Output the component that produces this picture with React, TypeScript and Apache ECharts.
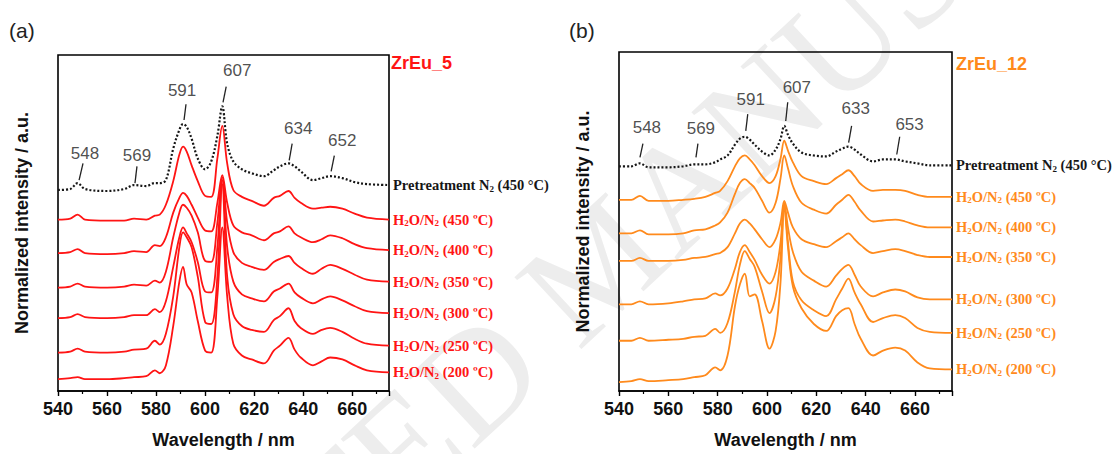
import React, { useEffect, useRef } from "react";
import * as echarts from "echarts";

// ---------- Panel (a): ZrEu_5 ----------
const wlA = [540, 545, 548, 551, 560, 567, 571, 576, 579.5, 581.5, 584, 587, 589.5, 591, 592.5, 594.5, 597, 600, 602.5, 605, 607, 609, 611.5, 615, 619, 624, 628, 630.5, 634, 636.5, 639, 644, 647.5, 651, 656, 661, 666, 675];
const aPre = [204, 205, 211, 205, 203, 205, 209, 208, 211, 211, 214, 246, 265, 271, 268, 256, 236, 225, 233, 259, 289, 251, 233, 225, 221, 218, 224, 228, 231, 228, 223, 214, 216, 218, 216, 212, 210, 209];
const a450 = [174, 175, 179, 174, 173, 173, 175, 174, 178, 179, 189, 213, 240, 248, 243, 229, 213, 198, 197, 236, 269, 231, 204, 197, 193, 188, 196, 198, 203, 196, 191, 185, 186, 187, 185, 180, 176, 174];
const a400 = [140, 141, 144, 140, 139, 140, 142, 141, 148, 147, 156, 181, 196, 201, 198, 189, 176, 163, 162, 191, 219, 191, 168, 161, 158, 153, 160, 162, 167, 160, 156, 151, 154, 158, 155, 149, 145, 143];
const a350 = [105, 106, 109, 106, 105, 106, 108, 107, 112, 110, 121, 156, 181, 189, 186, 178, 161, 132, 131, 171, 217, 171, 141, 130, 126, 123, 131, 134, 137, 130, 125, 119, 124, 128, 124, 118, 113, 111];
const a300 = [74, 75, 78, 75, 74, 75, 77, 77, 83, 80, 91, 126, 156, 166, 160, 151, 131, 101, 100, 146, 214, 146, 111, 98, 94, 91, 101, 104, 109, 100, 95, 89, 93, 96, 92, 86, 81, 79];
const a250 = [39, 40, 43, 40, 39, 40, 42, 43, 51, 47, 58, 96, 146, 161, 156, 146, 116, 70, 68, 116, 210, 116, 78, 66, 62, 60, 72, 76, 84, 71, 64, 58, 62, 64, 60, 53, 48, 46];
const a200 = [12, 13, 14, 12, 12, 13, 14, 15, 21, 18, 26, 66, 111, 126, 108, 100, 71, 41, 39, 96, 166, 96, 48, 36, 32, 28, 41, 46, 54, 42, 34, 26, 30, 34, 32, 26, 21, 19];

// ---------- Panel (b): ZrEu_12 ----------
const wlB = [540, 545, 548.5, 552, 560, 566, 570.5, 575, 579, 581, 584, 587, 589, 591, 593, 595, 598, 601, 603.5, 605.5, 607, 608.5, 610.5, 614, 619, 624, 628, 630.5, 633, 635.5, 638, 643, 647, 652, 656, 661, 666, 675];
const bPre = [228, 228, 231, 227, 227, 228, 230, 230, 232, 235, 239, 250, 256, 258, 255, 250, 243, 239, 245, 256, 269, 260, 251, 242, 239, 238, 243, 246, 248, 245, 240, 233, 235, 235, 233, 231, 229, 229];
const b450 = [194, 194, 198, 193, 193, 194, 195, 197, 201, 203, 213, 228, 236, 239, 235, 229, 218, 211, 218, 236, 254, 244, 232, 218, 213, 210, 216, 220, 224, 218, 210, 203, 204, 204, 203, 199, 197, 197];
const b400 = [160, 160, 163, 159, 159, 160, 163, 164, 168, 171, 181, 200, 211, 215, 211, 206, 193, 181, 191, 216, 239, 226, 208, 191, 184, 180, 189, 194, 199, 192, 183, 172, 173, 174, 172, 168, 166, 166];
const b350 = [132, 132, 135, 132, 132, 133, 135, 136, 139, 140, 146, 160, 170, 174, 170, 164, 154, 146, 154, 171, 193, 181, 166, 154, 149, 146, 152, 156, 160, 154, 148, 140, 142, 144, 142, 138, 136, 136];
const b300 = [88, 88, 91, 88, 89, 91, 93, 94, 99, 97, 104, 124, 141, 148, 141, 133, 118, 109, 121, 151, 191, 166, 141, 121, 112, 106, 117, 124, 128, 118, 106, 96, 100, 103, 101, 95, 93, 93];
const b250 = [51, 51, 54, 51, 52, 53, 55, 56, 63, 59, 69, 101, 128, 142, 134, 126, 101, 79, 96, 136, 189, 151, 111, 92, 82, 76, 93, 104, 114, 100, 88, 70, 74, 77, 74, 64, 60, 59];
const b200 = [9, 10, 12, 10, 11, 12, 14, 16, 24, 21, 36, 86, 108, 119, 96, 98, 71, 43, 61, 111, 187, 146, 106, 84, 68, 61, 76, 82, 84, 68, 53, 36, 41, 44, 41, 29, 23, 22];

const temps = [450, 400, 350, 300, 250, 200];

// peak annotations: label text, label position [nm, a.u.], leader line [[nm,a.u.],[nm,a.u.]]
const tagsA = ["548", "569", "591", "607", "634", "652"];
const tagPosA = [[551.0, 241], [572.2, 239], [590.6, 305], [613.1, 325], [638.0, 266], [655.9, 254]];
const leadA = [[[550.2, 231], [548.6, 214]], [[572.2, 228], [571.4, 211]], [[592.2, 291], [591.4, 275]], [[608.6, 309], [607.3, 293]], [[635.5, 251], [634.3, 234]], [[652.7, 239], [651.4, 223]]];
const tagsB = ["548", "569", "591", "607", "633", "653"];
const tagPosB = [[551.3, 267], [573.2, 266], [593.4, 296], [612.1, 308], [636.0, 287], [657.8, 270]];
const leadB = [[[549.7, 251], [548.5, 237]], [[572.0, 251], [571.2, 237]], [[592.2, 281], [591.4, 264]], [[608.4, 293], [607.6, 274]], [[634.3, 269], [633.1, 252]], [[653.8, 258], [652.6, 240]]];

const SANS = "'Liberation Sans', Arial, Helvetica, sans-serif";
const SERIF = "'Liberation Serif', 'Times New Roman', serif";
const RED = "#ff1414";
const ORANGE = "#ff8a1c";
const INK = "#161616";

function spectrum(idx: number, wl: number[], vals: number[], color: string, dotted: boolean, label: string) {
  return {
    type: "line",
    xAxisIndex: idx,
    yAxisIndex: idx,
    data: wl.map((w, i) => [w, vals[i]]),
    showSymbol: false,
    symbol: "none",
    smooth: 0.35,
    silent: true,
    lineStyle: dotted
      ? { color: INK, width: 2.2, type: [2, 2], cap: "butt" }
      : { color, width: 1.8 },
    endLabel: {
      show: true,
      distance: 4,
      formatter: () => label,
      color: dotted ? INK : color,
      fontFamily: SERIF,
      fontWeight: "bold",
      fontSize: 14.5,
      lineHeight: 16,
      rich: {
        s: {
          fontFamily: SERIF,
          fontWeight: "bold",
          fontSize: 9,
          lineHeight: 6,
          verticalAlign: "bottom",
          color: dotted ? INK : color,
        },
      },
    },
    z: dotted ? 3 : 2,
  };
}

function annotations(idx: number, tags: string[], pos: number[][], lead: number[][][]) {
  return {
    type: "scatter",
    xAxisIndex: idx,
    yAxisIndex: idx,
    symbolSize: 0,
    silent: true,
    data: tags.map((t, i) => ({ name: t, value: pos[i] })),
    label: {
      show: true,
      position: "inside",
      formatter: "{b}",
      fontFamily: SANS,
      fontSize: 17,
      color: "#222",
    },
    markLine: {
      silent: true,
      symbol: ["none", "none"],
      label: { show: false },
      lineStyle: { color: "#222", width: 1.3, type: "solid" },
      data: lead.map((seg) => [{ coord: seg[0] }, { coord: seg[1] }]),
    },
    z: 4,
  };
}

function buildOption() {
  const grids = [
    { left: 58, top: 55, width: 331, height: 341 },
    { left: 619, top: 52, width: 333, height: 344 },
  ];
  const xAxis = grids.map((_, i) => ({
    type: "value",
    gridIndex: i,
    min: 540,
    max: 675,
    interval: 20,
    axisLine: { show: true, onZero: false, lineStyle: { color: "#000", width: 1.6 } },
    axisTick: { show: true, inside: false, length: 5, lineStyle: { color: "#000", width: 1.4 } },
    minorTick: { show: true, splitNumber: 2, length: 3, lineStyle: { color: "#000", width: 1.2 } },
    axisLabel: { show: true, showMaxLabel: false, margin: 9, fontSize: 18, fontWeight: "bold", color: "#111", fontFamily: SANS },
    splitLine: { show: false },
    minorSplitLine: { show: false },
    name: "Wavelength / nm",
    nameLocation: "middle",
    nameGap: 40,
    nameTextStyle: { fontSize: 18, fontWeight: "bold", color: "#111", fontFamily: SANS },
  }));
  const yAxis = grids.map((g, i) => ({
    type: "value",
    gridIndex: i,
    min: 0,
    max: g.height,
    axisLine: { show: false },
    axisTick: { show: false },
    axisLabel: { show: false },
    splitLine: { show: false },
    name: "Normalized intensity / a.u.",
    nameLocation: "middle",
    nameGap: 27,
    nameTextStyle: { fontSize: 18, fontWeight: "bold", color: "#111", fontFamily: SANS },
  }));

  const h2o = (t: number) => `H{s|2}O/N{s|2} (${t} ºC)`;
  const pre = "Pretreatment N{s|2} (450 °C)";
  const setA = [a450, a400, a350, a300, a250, a200];
  const setB = [b450, b400, b350, b300, b250, b200];

  const series: any[] = [
    spectrum(0, wlA, aPre, INK, true, pre),
    ...setA.map((v, i) => spectrum(0, wlA, v, RED, false, h2o(temps[i]))),
    spectrum(1, wlB, bPre, INK, true, pre),
    ...setB.map((v, i) => spectrum(1, wlB, v, ORANGE, false, h2o(temps[i]))),
    annotations(0, tagsA, tagPosA, leadA),
    annotations(1, tagsB, tagPosB, leadB),
  ];

  const txt = (text: string, x: number, y: number, size: number, color: string, weight: string) => ({
    type: "text",
    x,
    y,
    silent: true,
    style: {
      text,
      fill: color,
      fontSize: size,
      fontWeight: weight,
      fontFamily: SANS,
      textAlign: "left",
      align: "left",
      textVerticalAlign: "middle",
      verticalAlign: "middle",
    },
    z: 10,
  });

  return {
    animation: false,
    backgroundColor: "#ffffff",
    grid: grids.map((g) => ({ ...g, show: true, borderColor: "#000", borderWidth: 1.6, backgroundColor: "transparent", containLabel: false })),
    xAxis,
    yAxis,
    series,
    graphic: [
      {
        type: "text",
        x: 600,
        y: 262,
        rotation: 0.75,
        silent: true,
        z: -10,
        style: {
          text: "ACCEPTED MANUSCRIPT",
          fill: "#ededed",
          fontSize: 150,
          fontFamily: SERIF,
          textAlign: "center",
          align: "center",
          textVerticalAlign: "middle",
          verticalAlign: "middle",
        },
      },
      txt("(a)", 9, 30, 21, "#222", "normal"),
      txt("(b)", 569, 30, 21, "#222", "normal"),
      txt("ZrEu_5", 391, 63, 18, RED, "bold"),
      txt("ZrEu_12", 956, 64, 18, ORANGE, "bold"),
    ],
  };
}

export default function App() {
  const ref = useRef<HTMLDivElement>(null);
  useEffect(() => {
    if (!ref.current) return;
    const chart = echarts.init(ref.current, null, { renderer: "svg" });
    chart.setOption(buildOption() as any);
    return () => chart.dispose();
  }, []);
  return (
    <div
      ref={ref}
      style={{ position: "absolute", left: 0, top: 0, width: 1115, height: 454, background: "#fff" }}
    />
  );
}
